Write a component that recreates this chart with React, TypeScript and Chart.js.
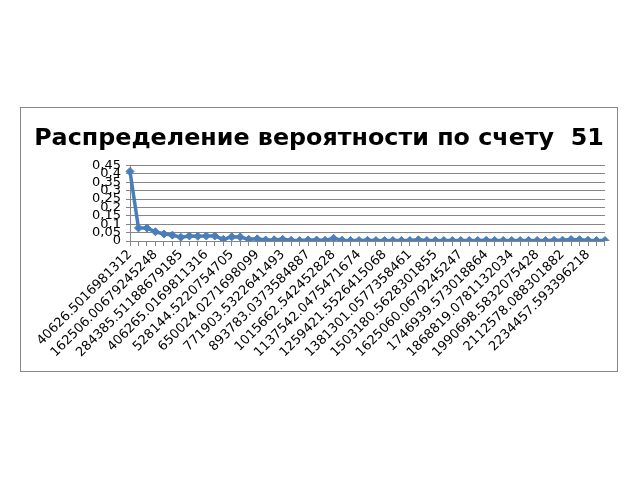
import React, { useEffect, useRef } from "react";
import { Chart, registerables } from "chart.js";

Chart.register(...registerables);

const TITLE = "Распределение вероятности по счету  51";

const tickLabels = [
  "40626.5016981312",
  "162506.00679245248",
  "284385.51188679185",
  "406265.0169811316",
  "528144.5220754705",
  "650024.0271698099",
  "771903.5322641493",
  "893783.0373584887",
  "1015662.542452828",
  "1137542.0475471674",
  "1259421.5526415068",
  "1381301.0577358461",
  "1503180.5628301855",
  "1625060.0679245247",
  "1746939.573018864",
  "1868819.0781132034",
  "1990698.5832075428",
  "2112578.088301882",
  "2234457.593396218",
];

const probabilities = [
  0.415, 0.078, 0.077, 0.055, 0.042, 0.035, 0.022, 0.03, 0.028, 0.03,
  0.03, 0.01, 0.025, 0.024, 0.01, 0.013, 0.006, 0.007, 0.01, 0.004,
  0.003, 0.006, 0.006, 0.004, 0.016, 0.005, 0.003, 0.003, 0.004, 0.003,
  0.003, 0.003, 0.003, 0.003, 0.007, 0.003, 0.003, 0.003, 0.003, 0.003,
  0.003, 0.003, 0.004, 0.003, 0.003, 0.003, 0.003, 0.003, 0.003, 0.003,
  0.004, 0.005, 0.009, 0.008, 0.004, 0.003, 0.003,
];

const LABEL_EVERY = 3;
const Y_MIN = 0;
const Y_MAX = 0.45;
const Y_STEP = 0.05;

export default function App() {
  const ref = useRef<HTMLCanvasElement | null>(null);

  useEffect(() => {
    if (!ref.current) return;
    const categories = probabilities.map((_, i) =>
      i % LABEL_EVERY === 0 ? tickLabels[i / LABEL_EVERY] ?? "" : ""
    );
    const chart = new Chart(ref.current, {
      type: "line",
      data: {
        labels: categories,
        datasets: [
          {
            data: probabilities,
            borderColor: "#4A7EBB",
            backgroundColor: "#4A7EBB",
            borderWidth: 3.5,
            pointStyle: "rectRot",
            pointRadius: 4,
            pointBorderWidth: 1,
            tension: 0,
          },
        ],
      },
      options: {
        animation: false,
        responsive: false,
        layout: { padding: { left: 12, right: 12, top: 0, bottom: 0 } },
        plugins: {
          legend: { display: false },
          tooltip: { enabled: false },
          title: {
            display: true,
            text: TITLE,
            color: "#000",
            font: { family: "DejaVu Sans", size: 23.8, weight: "bold" },
            padding: { top: 17, bottom: 12 },
          },
        },
        scales: {
          x: {
            offset: false,
            afterFit: (s: any) => {
              s.height = 130;
            },
            grid: {
              display: true,
              drawOnChartArea: false,
              drawTicks: true,
              tickLength: 5,
              color: "#868686",
            },
            border: { color: "#868686" },
            ticks: {
              autoSkip: false,
              maxRotation: 45,
              minRotation: 45,
              padding: 1,
              color: "#000",
              font: { family: "DejaVu Sans", size: 13 },
            },
          },
          y: {
            min: Y_MIN,
            max: Y_MAX,
            afterFit: (s: any) => {
              s.width = 97;
            },
            grid: {
              color: "#868686",
              drawTicks: true,
              tickLength: 4,
            },
            border: { color: "#868686" },
            ticks: {
              stepSize: Y_STEP,
              autoSkip: false,
              padding: 5,
              color: "#000",
              font: { family: "DejaVu Sans", size: 13 },
              callback: (v: any) =>
                String(Math.round(Number(v) * 100) / 100).replace(".", ","),
            },
          },
        },
      },
    });
    return () => chart.destroy();
  }, []);

  return (
    <div style={{ position: "fixed", left: 0, top: 0, width: 640, height: 480, background: "#fff" }}>
      <div
        style={{
          position: "absolute",
          left: 20,
          top: 107,
          width: 596,
          height: 263,
          border: "1px solid #868686",
        }}
      >
        <canvas ref={ref} width={596} height={263} style={{ display: "block" }} />
      </div>
    </div>
  );
}
